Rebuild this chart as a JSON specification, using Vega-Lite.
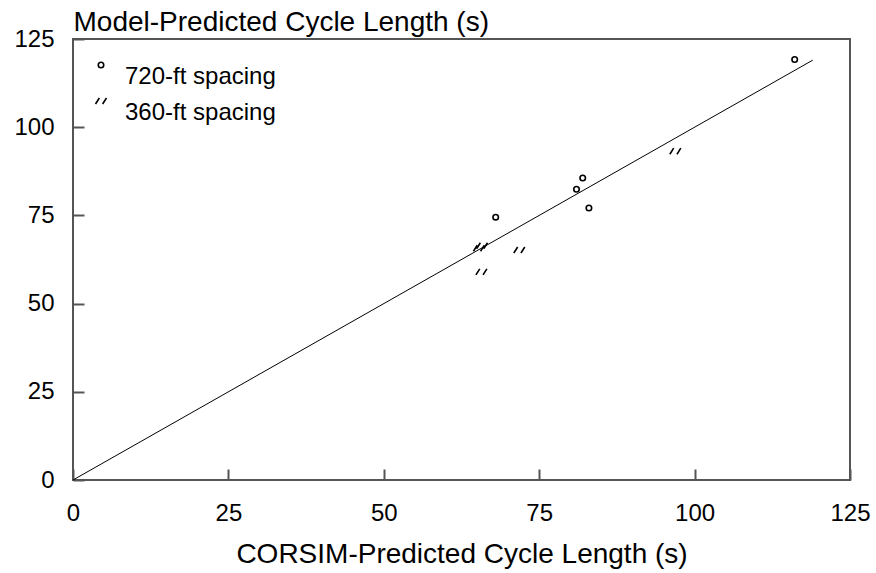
{
  "$schema": "https://vega.github.io/schema/vega-lite/v6.json",
  "width": 777,
  "height": 441,
  "autosize": {"type": "none"},
  "padding": {"left": 73, "top": 39, "right": 26, "bottom": 93},
  "background": "white",
  "config": {
    "font": "Liberation Sans",
    "view": {"stroke": "#555555", "strokeWidth": 2},
    "axis": {
      "domain": false,
      "grid": false,
      "ticks": true,
      "tickColor": "#555555",
      "tickWidth": 2,
      "tickSize": -11,
      "labelFont": "Liberation Sans",
      "labelFontSize": 24,
      "labelColor": "black",
      "labelFlush": false,
      "titleFont": "Liberation Sans",
      "titleFontSize": 28,
      "titleFontWeight": "normal",
      "titleColor": "black"
    }
  },
  "datasets": {
    "points": [
      {"corsim": 116.1, "model": 119.2, "spacing": "720-ft spacing"},
      {"corsim": 68.0, "model": 74.5, "spacing": "720-ft spacing"},
      {"corsim": 81.0, "model": 82.4, "spacing": "720-ft spacing"},
      {"corsim": 82.0, "model": 85.6, "spacing": "720-ft spacing"},
      {"corsim": 83.0, "model": 77.1, "spacing": "720-ft spacing"},
      {"corsim": 96.9, "model": 93.2, "spacing": "360-ft spacing"},
      {"corsim": 65.8, "model": 66.4, "spacing": "360-ft spacing"},
      {"corsim": 65.3, "model": 65.7, "spacing": "360-ft spacing"},
      {"corsim": 71.8, "model": 65.2, "spacing": "360-ft spacing"},
      {"corsim": 65.7, "model": 59.0, "spacing": "360-ft spacing"}
    ],
    "diag": [
      {"corsim": 0, "model": 0},
      {"corsim": 119, "model": 119}
    ]
  },
  "layer": [
    {
      "data": {"name": "diag"},
      "mark": {"type": "line", "color": "black", "strokeWidth": 1},
      "encoding": {
        "x": {"field": "corsim", "type": "quantitative", "scale": {"domain": [0, 125], "nice": false},
          "axis": {"values": [0, 25, 50, 75, 100, 125], "labelPadding": 32, "title": "CORSIM-Predicted Cycle Length (s)", "titleY": 82, "titleBaseline": "alphabetic"}},
        "y": {"field": "model", "type": "quantitative", "scale": {"domain": [0, 125], "nice": false},
          "axis": {"values": [0, 25, 50, 75, 100, 125], "labelPadding": 30, "title": "Model-Predicted Cycle Length (s)", "titleAngle": 0, "titleX": 0, "titleY": -9, "titleAlign": "left", "titleBaseline": "alphabetic"}}
      }
    },
    {
      "data": {"name": "points"},
      "mark": {"type": "point", "filled": false, "color": "black", "strokeWidth": 1.6, "opacity": 1, "size": 30},
      "encoding": {
        "x": {"field": "corsim", "type": "quantitative"},
        "y": {"field": "model", "type": "quantitative"},
        "shape": {
          "field": "spacing",
          "type": "nominal",
          "scale": {
            "domain": ["720-ft spacing", "360-ft spacing"],
            "range": ["circle", "M-2,1.1L-0.6,-1.1M0.6,1.1L2,-1.1"]
          },
          "legend": {
            "orient": "none",
            "legendX": 16,
            "legendY": 14,
            "title": null,
            "padding": 0,
            "labelFontSize": 24,
            "labelColor": "black",
            "labelFont": "Liberation Sans",
            "labelOffset": 12,
            "labelBaseline": "top",
            "rowPadding": -8,
            "symbolSize": 30,
            "symbolStrokeColor": "black",
            "symbolStrokeWidth": 1.6,
            "symbolFillColor": "transparent"
          }
        }
      }
    }
  ]
}
